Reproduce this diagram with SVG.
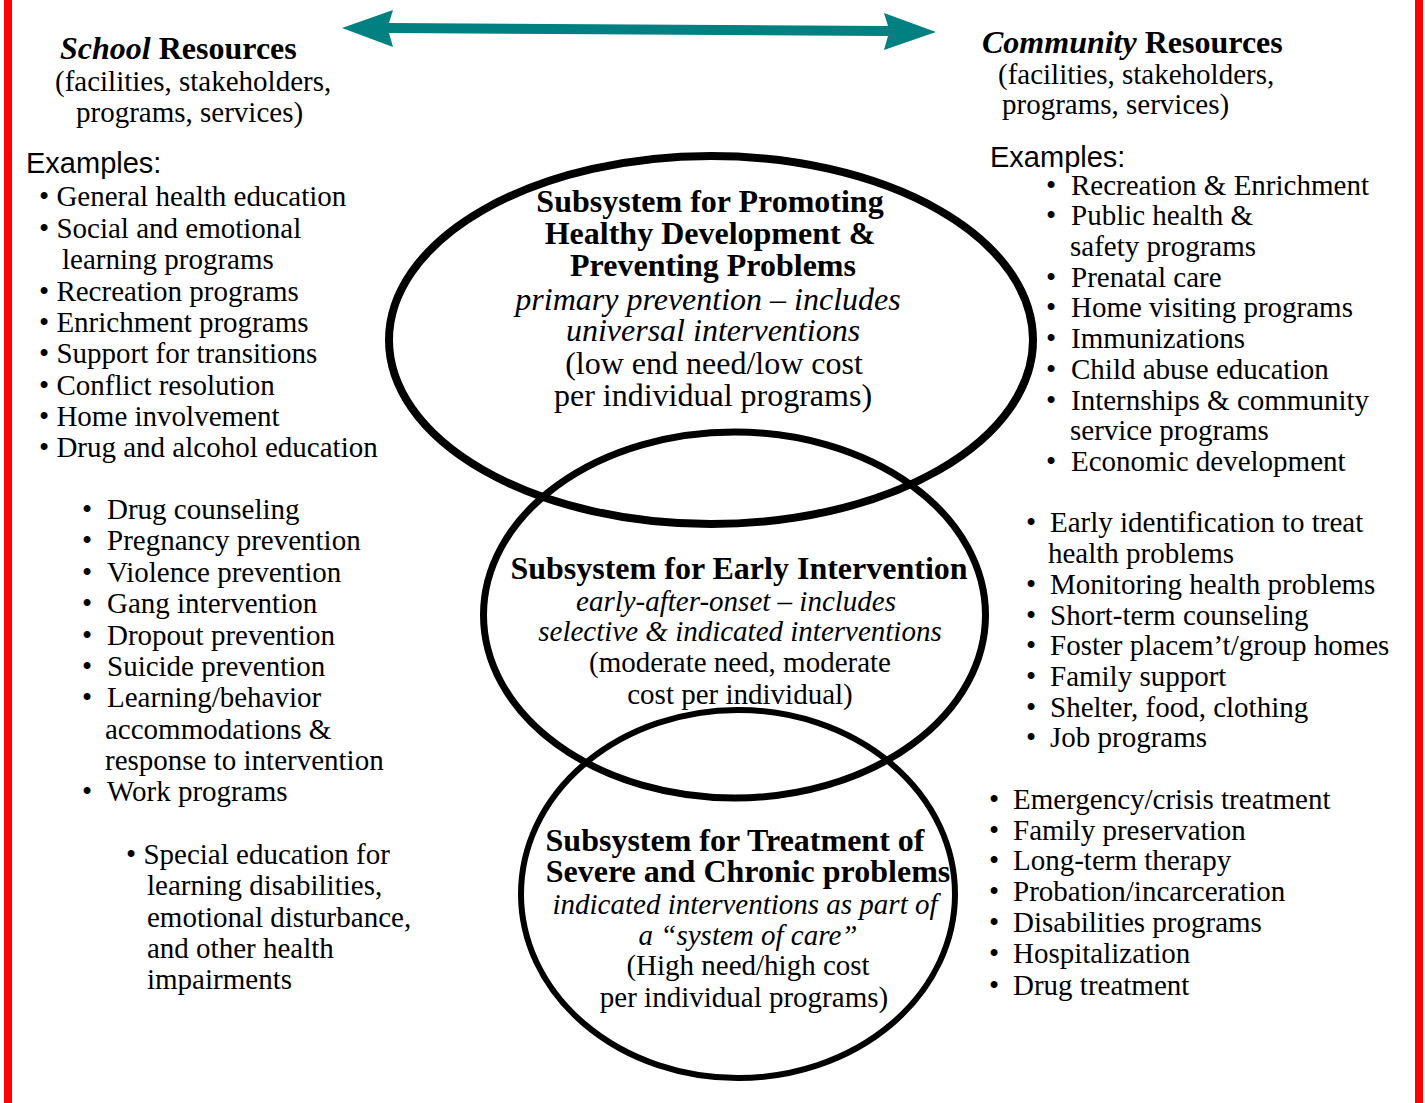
<svg xmlns="http://www.w3.org/2000/svg" width="1425" height="1103" viewBox="0 0 1425 1103">
<style>
.t{font-family:"Liberation Serif","Times New Roman",serif;font-size:29px;fill:#000}
.b{font-family:"Liberation Serif","Times New Roman",serif;font-size:32px;font-weight:bold;fill:#000}
.l{font-size:32px}
.i{font-style:italic}
.s{font-family:"Liberation Sans",Arial,sans-serif;font-size:29px;fill:#000}
.m{text-anchor:middle}
.ell{fill:none;stroke:#000}
</style>
<rect x="0" y="0" width="1425" height="1103" fill="#fff"/>
<rect x="4" y="0" width="8" height="1103" fill="#ff0000"/>
<rect x="1415" y="0" width="8" height="1103" fill="#ff0000"/>

<g id="connectors">
<polygon points="342,28 393,10 389,23 888,26 884,13 936,32 884,50 888,36 389,33 393,47" fill="#008080"/>
</g>

<g id="school-resources">
<text class="b" x="60" y="59"><tspan class="i">School</tspan> Resources</text>
<text class="t" x="55" y="91">(facilities, stakeholders,</text>
<text class="t" x="76" y="122">programs, services)</text>
<text class="s" x="26" y="173">Examples:</text>
<text class="t" x="39" y="206">• General health education</text>
<text class="t" x="39" y="238">• Social and emotional</text>
<text class="t" x="62" y="269">learning programs</text>
<text class="t" x="39" y="301">• Recreation programs</text>
<text class="t" x="39" y="332">• Enrichment programs</text>
<text class="t" x="39" y="363">• Support for transitions</text>
<text class="t" x="39" y="395">• Conflict resolution</text>
<text class="t" x="39" y="426">• Home involvement</text>
<text class="t" x="39" y="457">• Drug and alcohol education</text>
</g>

<g id="school-early">
<text class="t" x="82" y="519">•</text><text class="t" x="107" y="519">Drug counseling</text>
<text class="t" x="82" y="550">•</text><text class="t" x="107" y="550">Pregnancy prevention</text>
<text class="t" x="82" y="582">•</text><text class="t" x="107" y="582">Violence prevention</text>
<text class="t" x="82" y="613">•</text><text class="t" x="107" y="613">Gang intervention</text>
<text class="t" x="82" y="645">•</text><text class="t" x="107" y="645">Dropout prevention</text>
<text class="t" x="82" y="676">•</text><text class="t" x="107" y="676">Suicide prevention</text>
<text class="t" x="82" y="707">•</text><text class="t" x="107" y="707">Learning/behavior</text>
<text class="t" x="105" y="739">accommodations &amp;</text>
<text class="t" x="105" y="770">response to intervention</text>
<text class="t" x="82" y="801">•</text><text class="t" x="107" y="801">Work programs</text>
</g>

<g id="school-treatment">
<text class="t" x="126" y="864">• Special education for</text>
<text class="t" x="147" y="895">learning disabilities,</text>
<text class="t" x="147" y="927">emotional disturbance,</text>
<text class="t" x="147" y="958">and other health</text>
<text class="t" x="147" y="989">impairments</text>
</g>

<g id="community-resources">
<text class="b" x="982" y="53"><tspan class="i">Community</tspan> Resources</text>
<text class="t" x="998" y="84">(facilities, stakeholders,</text>
<text class="t" x="1002" y="114">programs, services)</text>
<text class="s" x="990" y="167">Examples:</text>
<text class="t" x="1046" y="195">•</text><text class="t" x="1071" y="195">Recreation &amp; Enrichment</text>
<text class="t" x="1046" y="225">•</text><text class="t" x="1071" y="225">Public health &amp;</text>
<text class="t" x="1070" y="256">safety programs</text>
<text class="t" x="1046" y="287">•</text><text class="t" x="1071" y="287">Prenatal care</text>
<text class="t" x="1046" y="317">•</text><text class="t" x="1071" y="317">Home visiting programs</text>
<text class="t" x="1046" y="348">•</text><text class="t" x="1071" y="348">Immunizations</text>
<text class="t" x="1046" y="379">•</text><text class="t" x="1071" y="379">Child abuse education</text>
<text class="t" x="1046" y="410">•</text><text class="t" x="1071" y="410">Internships &amp; community</text>
<text class="t" x="1070" y="440">service programs</text>
<text class="t" x="1046" y="471">•</text><text class="t" x="1071" y="471">Economic development</text>
</g>

<g id="community-early">
<text class="t" x="1026" y="532">•</text><text class="t" x="1050" y="532">Early identification to treat</text>
<text class="t" x="1048" y="563">health problems</text>
<text class="t" x="1026" y="594">•</text><text class="t" x="1050" y="594">Monitoring health problems</text>
<text class="t" x="1026" y="625">•</text><text class="t" x="1050" y="625">Short-term counseling</text>
<text class="t" x="1026" y="655">•</text><text class="t" x="1050" y="655">Foster placem’t/group homes</text>
<text class="t" x="1026" y="686">•</text><text class="t" x="1050" y="686">Family support</text>
<text class="t" x="1026" y="717">•</text><text class="t" x="1050" y="717">Shelter, food, clothing</text>
<text class="t" x="1026" y="747">•</text><text class="t" x="1050" y="747">Job programs</text>
</g>

<g id="community-treatment">
<text class="t" x="989" y="809">•</text><text class="t" x="1013" y="809">Emergency/crisis treatment</text>
<text class="t" x="989" y="840">•</text><text class="t" x="1013" y="840">Family preservation</text>
<text class="t" x="989" y="870">•</text><text class="t" x="1013" y="870">Long-term therapy</text>
<text class="t" x="989" y="901">•</text><text class="t" x="1013" y="901">Probation/incarceration</text>
<text class="t" x="989" y="932">•</text><text class="t" x="1013" y="932">Disabilities programs</text>
<text class="t" x="989" y="963">•</text><text class="t" x="1013" y="963">Hospitalization</text>
<text class="t" x="989" y="995">•</text><text class="t" x="1013" y="995">Drug treatment</text>
</g>

<g id="node-promoting">
<ellipse class="ell" cx="711" cy="340" rx="322" ry="184" stroke-width="8"/>
<text class="b m" x="710" y="212">Subsystem for Promoting</text>
<text class="b m" x="710" y="244">Healthy Development &amp;</text>
<text class="b m" x="713" y="276">Preventing Problems</text>
<text class="t l m i" x="708" y="310">primary prevention – includes</text>
<text class="t l m i" x="713" y="341">universal interventions</text>
<text class="t l m" x="714" y="374">(low end need/low cost</text>
<text class="t l m" x="713" y="406">per individual programs)</text>
</g>

<g id="node-early">
<ellipse class="ell" cx="734.5" cy="615" rx="251" ry="183" stroke-width="7"/>
<text class="b m" x="739" y="579">Subsystem for Early Intervention</text>
<text class="t m i" x="736" y="611">early-after-onset – includes</text>
<text class="t m i" x="740" y="641">selective &amp; indicated interventions</text>
<text class="t m" x="740" y="672">(moderate need, moderate</text>
<text class="t m" x="740" y="704">cost per individual)</text>
</g>

<g id="node-treatment">
<ellipse class="ell" cx="738" cy="894" rx="217" ry="184" stroke-width="6"/>
<text class="b m" x="735" y="851">Subsystem for Treatment of</text>
<text class="b m" x="748" y="882">Severe and Chronic problems</text>
<text class="t m i" x="745" y="914">indicated interventions as part of</text>
<text class="t m i" x="748" y="945">a “system of care”</text>
<text class="t m" x="748" y="975">(High need/high cost</text>
<text class="t m" x="744" y="1007">per individual programs)</text>
</g>
</svg>
